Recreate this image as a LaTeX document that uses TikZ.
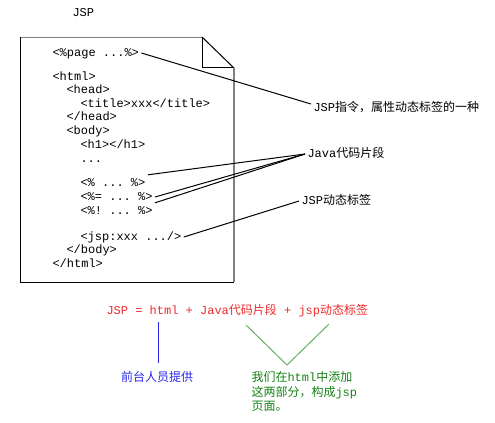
\documentclass[tikz,border=0pt]{standalone}
\usepackage{fontspec}
\setmonofont{Liberation Mono}
\newfontfamily\cjk{Noto Sans CJK SC}
\usepackage{xcolor}
\usepackage{tikz}
\usetikzlibrary{positioning,calc}

\definecolor{fmlred}{RGB}{240,40,40}
\definecolor{devblue}{RGB}{40,40,230}
\definecolor{addgreen}{RGB}{20,130,20}
\definecolor{vgreen}{RGB}{100,175,100}
\definecolor{pagegray}{RGB}{128,128,128}

\begin{document}
\begin{tikzpicture}[x=0.75pt, y=-0.75pt, line width=0.75pt,
    code/.style={anchor=west, inner sep=1.5pt, font=\ttfamily\fontsize{9}{10}\selectfont, text height=6.5pt, text depth=2pt},
    note/.style={anchor=west, inner sep=1.5pt, font=\ttfamily\fontsize{9}{10.9}\selectfont, text height=7pt, text depth=2pt},
    block/.style={anchor=north west, inner sep=1.5pt, align=left, font=\ttfamily\fontsize{9}{10.9}\selectfont}]
    \useasboundingbox (0,0) rectangle (495,422);

    % the page, corner folded
    \draw[pagegray] (20,37) -- (202,37);
    \draw (202,37) -- (234,68);
    \draw (202,37) -- (202,67) -- (234,67);
    \draw[pagegray, line width=1.5pt] (234,68) -- (234,282);
    \draw (20,37) -- (20,282) -- (234,282);

    \node (title) [code] at (70,13) {JSP};

    % page content
    \node (page)   [code] at (50,53)  {<\%page ...\%>};
    \node (html)   [code] at (50,77)  {<html>};
    \node (head)   [code] at (64,90)  {<head>};
    \node (tit)    [code] at (78,104) {<title>xxx</title>};
    \node (endhead)[code] at (64,117) {</head>};
    \node (body)   [code] at (64,131) {<body>};
    \node (hone)   [code] at (78,145) {<h1></h1>};
    \node (dots)   [code] at (78,159) {...};
    \node (c1)     [code] at (78,183) {<\% ... \%>};
    \node (c2)     [code] at (78,197) {<\%= ... \%>};
    \node (c3)     [code] at (78,211) {<\%! ... \%>};
    \node (jsptag) [code] at (78,237) {<jsp:xxx .../>};
    \node (endbody)[code] at (64,250) {</body>};
    \node (endhtml)[code] at (50,264) {</html>};

    % labels on the right
    \node (directive) [note] at (311,108) {JSP{\cjk 指令，属性动态标签的一种}};
    \node (snippet)   [note] at (305,154) {Java{\cjk 代码片段}};
    \node (dyntag)    [note] at (299,201) {JSP{\cjk 动态标签}};

    \draw (page.east) -- ([yshift=3pt]directive.west);
    \draw (c1.north east) -- (snippet.west);
    \draw (c2.east) -- (snippet.west);
    \draw (c3.north east) -- (snippet.west);
    \draw (jsptag.east) -- (dyntag.west);

    % formula below
    \node (formula) [note, text=fmlred] at (104,311) {JSP = html + Java{\cjk 代码片段} + jsp{\cjk 动态标签}};

    \coordinate (bluetop) at (158,322);
    \node (team) [note, anchor=center, text=devblue] at (157,378) {\cjk 前台人员提供};
    \draw[devblue] (bluetop) -- ([yshift=5pt]team.north -| bluetop);

    \coordinate (vleft)  at (246,325);
    \coordinate (vtip)   at (287,365);
    \coordinate (vright) at (329,324);
    \draw[vgreen] (vleft) -- (vtip) -- (vright);
    \node (added) [block, text=addgreen] at (249,369)
        {{\cjk 我们在}html{\cjk 中添加}\\{\cjk 这两部分，构成}jsp\\{\cjk 页面。}};
\end{tikzpicture}
\end{document}
